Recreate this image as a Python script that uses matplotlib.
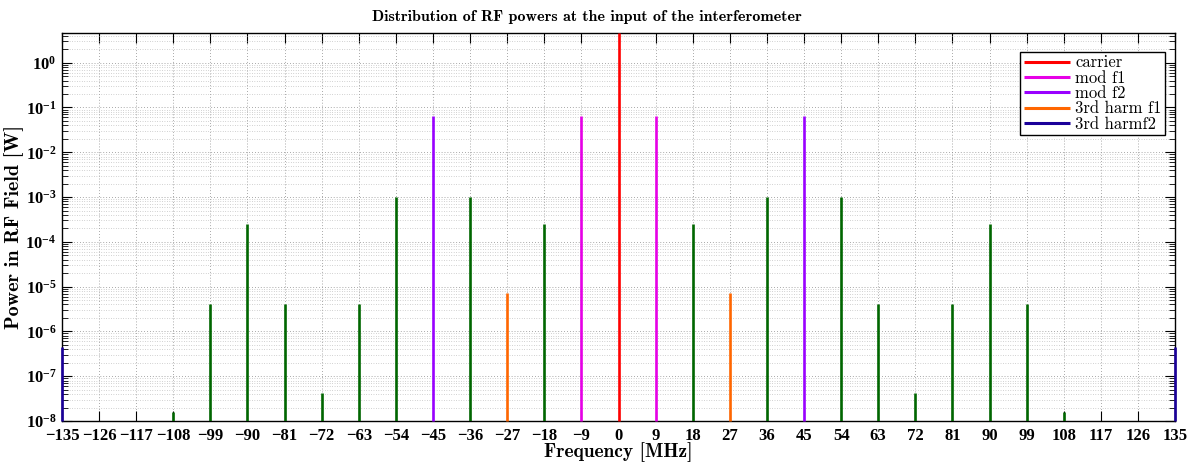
import numpy as np
import matplotlib
matplotlib.use("Agg")
import matplotlib.pyplot as plt
from matplotlib.ticker import FixedLocator, FuncFormatter, LogLocator, NullFormatter

plt.rcParams["mathtext.fontset"] = "custom"
plt.rcParams["mathtext.rm"] = "Liberation Serif:bold"
plt.rcParams["mathtext.bf"] = "Liberation Serif:bold"
plt.rcParams["mathtext.it"] = "Liberation Serif:bold"
plt.rcParams["axes.unicode_minus"] = True

# ─── Spectrum lines (frequency in MHz, power in W) ─────────────────────────────

carrier_f = [0]
carrier_p = [4.6]

mod_f1_f = [-9, 9]
mod_f1_p = [0.063, 0.063]

mod_f2_f = [-45, 45]
mod_f2_p = [0.063, 0.063]

harm3_f1_f = [-27, 27]
harm3_f1_p = [7.2e-6, 7.2e-6]

harm3_f2_f = [-135, 135]
harm3_f2_p = [4.4e-7, 4.4e-7]

mixed_f = [-108, -99, -90, -81, -72, -63, -54, -36, -18,
           18, 36, 54, 63, 72, 81, 90, 99, 108]
mixed_p = [1.6e-8, 4.0e-6, 2.5e-4, 4.0e-6, 4.3e-8, 4.0e-6, 1.0e-3, 1.0e-3, 2.5e-4,
           2.5e-4, 1.0e-3, 1.0e-3, 4.0e-6, 4.3e-8, 4.0e-6, 2.5e-4, 4.0e-6, 1.6e-8]

freq_ticks = list(range(-135, 136, 9))

series = [
    (carrier_f, carrier_p, "#ff0000", "carrier"),
    (mod_f1_f, mod_f1_p, "#e600e6", "mod f1"),
    (mod_f2_f, mod_f2_p, "#9900ff", "mod f2"),
    (harm3_f1_f, harm3_f1_p, "#ff6600", "3rd harm f1"),
    (harm3_f2_f, harm3_f2_p, "#1a0099", "3rd harmf2"),
]

floor = 1e-8
ymax = 4.6

fig = plt.figure(figsize=(11.87, 4.62), dpi=100)
ax = fig.add_axes([62 / 1187, 1 - 421 / 462, (1175 - 62) / 1187, (421 - 33) / 462])
ax.set_yscale("log")

# green lines first so the labelled ones sit on top
ax.vlines(mixed_f, floor, mixed_p, colors="#006600", linewidth=1.9, zorder=3)
for f, p, c, lab in series:
    ax.vlines(f, floor, p, colors=c, linewidth=1.9, label=lab, zorder=4,
              clip_on=False)

ax.set_xlim(-135, 135)
ax.set_ylim(floor, ymax)

ax.xaxis.set_major_locator(FixedLocator(freq_ticks))
ax.xaxis.set_major_formatter(
    FuncFormatter(lambda v, _: ("%d" % round(v)).replace("-", "\u2212")))
ax.yaxis.set_major_locator(LogLocator(base=10, numticks=20))
ax.yaxis.set_minor_locator(LogLocator(base=10, subs=np.arange(2, 10), numticks=20))
ax.yaxis.set_minor_formatter(NullFormatter())
ax.yaxis.set_major_formatter(
    FuncFormatter(lambda v, _: r"$10^{%d}$" % round(np.log10(v))))

for lbl in ax.get_xticklabels() + ax.get_yticklabels():
    lbl.set_fontfamily("Liberation Serif")
    lbl.set_fontweight("bold")

ax.tick_params(which="both", direction="in", top=True, right=True, labelsize=12)
ax.tick_params(which="major", length=7, width=0.8)
ax.tick_params(which="minor", length=4, width=0.6)
ax.tick_params(axis="x", pad=5)
ax.tick_params(axis="y", pad=4)

ax.grid(True, which="major", linestyle=(0, (1, 2.5)), color="#8c8c8c", linewidth=0.6)
ax.yaxis.grid(True, which="minor", linestyle=(0, (1, 2.5)), color="#a8a8a8", linewidth=0.5)
ax.set_axisbelow(True)
for s in ax.spines.values():
    s.set_linewidth(1.0)

ax.set_title("Distribution of RF powers at the input of the interferometer",
             fontname="cmb10", fontsize=11.5, pad=9, x=0.472)
ax.set_xlabel("Frequency [MHz]", fontname="cmb10", fontsize=14, labelpad=-1)
ax.set_ylabel("Power in RF Field [W]", fontname="cmb10", fontsize=14.5, labelpad=1)

leg = ax.legend(loc="upper right", bbox_to_anchor=(0.994, 0.96),
                prop={"family": "cmr10", "size": 12},
                frameon=True, fancybox=False, framealpha=1, edgecolor="black",
                handlelength=2.8, handletextpad=0.3, labelspacing=0.0,
                borderpad=0.2, borderaxespad=0.2)
leg.get_frame().set_linewidth(1.0)
for line in leg.get_lines():
    line.set_linewidth(2.2)

fig.savefig("out.png", dpi=100)
